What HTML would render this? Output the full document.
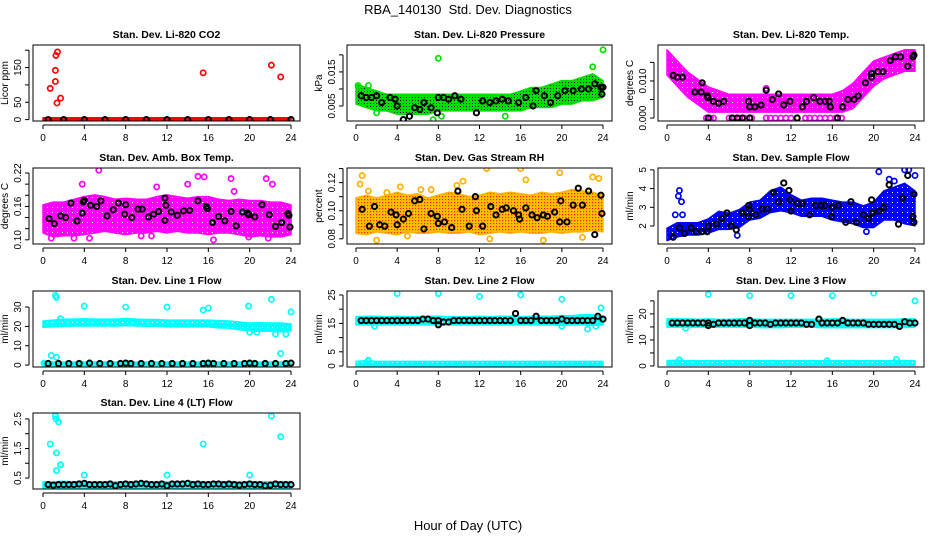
<!DOCTYPE html>
<html><head><meta charset="utf-8"><style>
html,body{margin:0;padding:0;background:#fff}
svg{display:block;font-family:"Liberation Sans",Arial,sans-serif}
</style></head><body>
<svg id="chart" width="936" height="540" viewBox="0 0 936 540" xmlns="http://www.w3.org/2000/svg">
<defs>
<pattern id="pg" width="3" height="3" patternUnits="userSpaceOnUse"><rect width="3" height="3" fill="#00e000"/><rect x="1" y="1" width="1" height="1" fill="#000"/></pattern>
<pattern id="po" width="3" height="3" patternUnits="userSpaceOnUse"><rect width="3" height="3" fill="#ffc000"/><rect x="1" y="1" width="1.2" height="1.2" fill="#ff2000"/></pattern>
<pattern id="pm" width="5" height="5" patternUnits="userSpaceOnUse"><rect width="5" height="5" fill="#ff00ff"/><rect x="2" y="2" width="1" height="1" fill="#fff"/></pattern>
<pattern id="pb" width="5" height="5" patternUnits="userSpaceOnUse"><rect width="5" height="5" fill="#0000ff"/><rect x="2" y="2" width="1" height="1" fill="#fff"/></pattern>
<pattern id="pc" width="5" height="5" patternUnits="userSpaceOnUse"><rect width="5" height="5" fill="#00ffff"/><rect x="2" y="2" width="1" height="1" fill="#fff"/></pattern>
</defs>
<text x="468" y="14" text-anchor="middle" font-size="13" style="white-space:pre">RBA_140130  Std. Dev. Diagnostics</text>
<text x="468" y="530" text-anchor="middle" font-size="13">Hour of Day (UTC)</text>
</svg>
<script>
const HRS=[0,1,2,3,4,5,6,7,8,9,10,11,12,13,14,15,16,17,18,19,20,21,22,23,24];
const xTicks=[0,4,8,12,16,20,24];
// CO2
const co2Lo=[-1,-1,-1,-1,-1,-1,-1,-1,-1,-1,-1,-1,-1,-1,-1,-1,-1,-1,-1,-1,-1,-1,-1,-1,-1];
const co2Hi=[1,1,1,1,1,1,1,1,1,1,1,1,1,1,1,1,1,1,1,1,1,1,1,1,1];
const co2OutX=[0.7,1.2,1.2,1.25,1.4,1.35,1.7,15.5,22.1,23];
const co2OutY=[90,110,142,185,195,48,62,135,157,123];
const co2BlkX=[0.5,2,4,6,8,10,12,14,16,18,20,22,24];
const co2BlkY=[0,0,0,0,0,0,0,0,0,0,0,0,0];
// Pressure
const prLo=[.006,.005,.004,.004,.003,.003,.003,.003,.004,.004,.004,.004,.004,.004,.004,.004,.004,.005,.005,.005,.006,.006,.007,.007,.008];
const prHi=[.011,.010,.009,.008,.008,.008,.008,.008,.008,.008,.008,.008,.008,.008,.008,.008,.009,.010,.010,.011,.012,.012,.013,.014,.012];
const prOutX=[8,24,23,0.2,1.2,2,4.6,7.5,8.3,14.5];
const prOutY=[.019,.0215,.0165,.011,.011,.003,.001,.001,.002,.002];
const prBlkX=[0.5,1,1.5,2,2.5,3.3,3.8,4,4.6,5.2,5.7,6.2,6.6,7.3,7.9,8,8.5,9,9.6,10.2,11.7,12.3,13,13.6,14.2,14.8,15.8,16.5,17.2,17.5,18.3,18.9,19.6,20.3,21.1,21.9,22.6,23.2,23.8,23.9,24];
const prBlkY=[.008,.0075,.0075,.008,.006,.0075,.007,.005,.001,.002,.0045,.004,.006,.0045,.003,.0075,.0075,.007,.008,.007,.003,.0065,.006,.0065,.007,.0065,.006,.0075,.005,.0095,.008,.006,.008,.0095,.0095,.010,.010,.0115,.0105,.0085,.0105];
// Li-820 Temp
const tpLo=[.012,.009,.006,.004,.002,.002,.002,.002,.002,.002,.002,.002,.002,.002,.002,.002,.002,.002,.003,.006,.009,.011,.012,.013,.013];
const tpHi=[.018,.015,.012,.010,.008,.007,.006,.006,.006,.006,.006,.006,.006,.006,.006,.006,.006,.007,.009,.012,.015,.016,.017,.018,.018];
const tpOutX=[3.8,4.2,4.5,6,6.5,7,7.5,8.2,9.6,10,10.5,11,11.5,12,13.4,13.8,14.3,14.8,15.3,15.8,16.3,16.9,9.6,17.5];
const tpOutY=[0,0,0,0,0,0,0,0,0,0,0,0,0,0,0,0,0,0,0,0,0,0,.008,.0075];
const tpBlkX=[0.6,1,1.5,2.7,3.3,3.4,3.9,3.95,4,4.5,5,5.5,6.3,6.8,7.3,7.9,8,8,8.5,9.1,9.6,10.2,10.8,11.3,11.9,12.6,13.1,13.5,14.2,14.8,15.3,15.7,15.8,16.5,17,17.5,18.1,18.5,19.2,19.8,19.8,20.4,20.9,21.6,22.1,22.6,23.3,23.8,23.9];
const tpBlkY=[.0115,.011,.011,.007,.007,.0095,.006,.0055,0,.0045,.004,.0045,0,0,0,.0045,.003,0,.003,.0035,.0075,.005,.0065,.0035,.0045,0,.003,.0045,.0055,.0045,.0045,.0045,.003,0,.003,.005,.005,.006,.0095,.011,.012,.0125,.0125,.0155,.0165,.0165,.014,.0165,.017];
// Amb box temp
const abLo=[.115,.108,.110,.110,.112,.115,.118,.115,.112,.115,.115,.118,.115,.118,.115,.115,.112,.115,.115,.112,.108,.110,.108,.108,.112];
const abHi=[.160,.165,.165,.170,.175,.178,.175,.170,.172,.170,.170,.175,.178,.175,.172,.175,.175,.170,.168,.170,.168,.168,.165,.165,.160];
const abOutX=[5.4,3.8,15,15.6,21.6,18.5,14,11,18.2,22.2,16.5,4.5,19.9,21.8,0.8,10.5,3,9.5,5.2];
const abOutY=[.225,.200,.214,.213,.210,.187,.200,.195,.210,.200,.100,.103,.105,.103,.103,.107,.103,.107,.118];
const abBlkX=[0.6,1.1,1.7,2.2,2.7,3.3,3.8,3.9,4,4.6,5.2,5.6,6.2,6.8,7.3,7.9,8,8.6,9.2,9.6,10.2,10.7,11.2,11.8,11.8,11.9,12.4,13,13.6,14.2,15,15.8,15.9,16.4,17,17.6,18.2,18.7,19.3,19.8,19.9,20.5,21.2,21.9,22.5,23.1,23.7,23.8,23.9];
const abBlkY=[.138,.129,.143,.140,.166,.134,.148,.168,.171,.162,.160,.170,.143,.154,.166,.146,.163,.140,.155,.155,.141,.146,.151,.175,.135,.162,.150,.144,.152,.153,.170,.160,.156,.131,.142,.134,.151,.125,.150,.148,.145,.141,.163,.145,.124,.131,.147,.144,.123];
// RH
const rhLo=[.085,.084,.086,.085,.084,.086,.085,.085,.086,.085,.085,.086,.084,.085,.086,.085,.086,.085,.085,.086,.085,.086,.086,.087,.086];
const rhHi=[.108,.110,.108,.110,.112,.110,.111,.108,.110,.112,.111,.109,.110,.112,.111,.112,.111,.110,.112,.111,.112,.114,.113,.112,.110];
const rhOutX=[0.6,0.4,1.2,3,4.3,6.3,7.3,9.8,10.4,12.7,16,16.5,19.8,23,23.6,2,5,13,18.2,22];
const rhOutY=[.125,.119,.114,.113,.117,.115,.115,.118,.121,.130,.130,.122,.127,.124,.123,.079,.082,.080,.079,.081];
const rhBlkX=[0.6,1.3,1.8,2.3,2.8,3.4,3.9,4.0,4.6,5.1,5.7,6.2,6.6,7.3,7.9,8.0,8.6,9.3,9.9,10.3,11,11.6,11.7,12.3,13.1,13.6,14.2,14.6,15.3,15.8,15.9,16.5,17.1,17.6,18.2,18.6,19.3,19.8,19.9,20.5,21.1,21.6,22,22.6,23.2,23.8,23.9];
const rhBlkY=[.101,.089,.103,.090,.089,.099,.097,.090,.094,.098,.107,.108,.087,.098,.096,.091,.092,.088,.114,.101,.089,.110,.100,.089,.103,.097,.101,.102,.100,.097,.094,.102,.097,.095,.097,.096,.099,.092,.107,.092,.104,.116,.104,.114,.083,.111,.098];
// Sample flow
const sfLo=[1.3,1.5,1.6,1.6,1.7,1.9,1.9,2.0,2.4,2.5,2.8,2.9,2.8,2.6,2.6,2.6,2.4,2.3,2.2,2.0,2.0,2.4,2.4,2.2,2.1];
const sfHi=[1.8,2.1,2.1,2.1,2.3,2.7,2.6,2.8,3.2,3.3,3.8,4.0,3.6,3.3,3.4,3.4,3.3,3.2,3.2,3.0,3.2,3.8,4.0,4.2,3.8];
const sfOutX=[1.2,1.1,1.4,0.8,1.5,20.5,23,23.4,24,19.3,6.8,21.5,22];
const sfOutY=[3.9,3.6,3.3,2.6,2.6,4.9,5,5,4.7,1.7,1.5,4.5,4.4];
const sfBlkX=[0.6,1.2,1.7,2.3,2.8,3.4,3.9,4,4.8,5.3,5.8,6.2,6.7,7.3,7.9,7.9,8,8.6,9.2,9.7,10.3,10.8,11.3,11.8,11.9,12,12.6,13.1,13.8,14.4,14.9,15.3,15.9,16,16.6,17.3,17.8,18.3,19,19.5,19.8,19.9,20.5,21,21.5,22.4,22.8,23.3,23.8,23.9,23.9];
const sfBlkY=[1.4,1.9,1.6,1.9,1.7,1.7,1.7,2,2.1,2.4,2.7,2,1.8,2.7,3.1,2.5,2.9,2.6,2.9,2.9,3.8,3.3,4.3,3.9,3.4,2.8,3.2,3.2,2.6,3.1,3.1,3.1,2.5,3,3.1,2.2,3.3,2.2,2.6,2.4,3.4,2.7,2.8,3,4.2,2.1,3.5,4.7,2.5,3.7,2.2];
// Line1
const l1Lo=[20.3,20.5,20.8,21,21,21,21,21,21.2,21,20.8,20.8,20.5,20.5,20.5,20.5,20.5,20,19.8,19,18.5,18.3,18.3,18,18.5];
const l1Hi=[22,22.5,23,23,23.2,23,23,23,23.3,23,22.8,22.8,22.5,22.5,22.5,22.5,22.5,22.2,22,21.5,21,21.2,21,21,20.5];
const l1OutX=[1.2,1.3,0.8,1.3,1.7,4,8,12,15.5,16,19.9,22.1,22.5,23,23.5,24,20,20.7,0.1];
const l1OutY=[36,35,5,4,24,30.5,30,30,28.5,29.5,30.5,34,16,6,16,27.5,17,17,1];
const l1BlkX=[0.5,1.5,2.5,3.5,4.5,5.5,6.5,7.5,8,8.5,9.5,10.5,11.5,12.5,13.5,14.5,15.5,16,16.5,17.5,18.5,19.5,20,20.5,21.5,22.5,23.5,24];
const l1BlkY=[0.8,0.8,0.8,0.8,1,0.8,0.8,0.8,1,0.8,0.8,0.8,0.8,0.8,0.8,0.8,0.8,1,0.8,0.8,0.8,0.8,1,0.8,0.8,0.8,0.8,1];
const l1ZLo=[0.5,0.5,0.5,0.5,0.5,0.5,0.5,0.5,0.5,0.5,0.5,0.5,0.5,0.5,0.5,0.5,0.5,0.5,0.5,0.5,0.5,0.5,0.5,0.5,0.5];
const l1ZHi=[0.8,0.8,0.8,0.8,0.8,0.8,0.8,0.8,0.8,0.8,0.8,0.8,0.8,0.8,0.8,0.8,0.8,0.8,0.8,0.8,0.8,0.8,0.8,0.8,0.8];
// Line2
const l2Lo=[15,15,15,15,15,15,15,15,15,15,15,15,15,15,15,15,15,15,15,15,14.8,15,15,14.8,15];
const l2Hi=[16.8,17,17,16.8,17,16.8,16.8,17,17,16.8,16.8,16.8,17,16.8,17,17,16.8,17,17,17,17.2,17.2,17.5,17.5,17];
const l2ZLo=[0.5,0.5,0.5,0.5,0.5,0.5,0.5,0.5,0.5,0.5,0.5,0.5,0.5,0.5,0.5,0.5,0.5,0.5,0.5,0.5,0.5,0.5,0.5,0.5,0.5];
const l2ZHi=[1.1,1.3,1.1,1.1,1.1,1.1,1.1,1.1,1.1,1.1,1.1,1.1,1.1,1.1,1.1,1.1,1.1,1.1,1.1,1.1,1.1,1.1,1.1,1.1,1.1];
const l2OutX=[4,8,12,16,20,23.8,1.8,20,22.5,23.3,1.2];
const l2OutY=[25.5,25.5,24.5,25,23.5,20.5,14,14,13,14,2];
const l2BlkX=[0.5,1,1.5,2,2.5,3,3.5,4,4.5,5,5.5,6,6.5,7,7.5,8,8,8.5,9,9.5,10,10.5,11,11.5,12,12.5,13,13.5,14,14.5,15,15.5,16,16.5,17,17.5,18,18.5,19,19.5,20,20.5,21,21.5,22,22.5,23,23.5,24];
const l2BlkY=[16,16,16,16,16,16,16,16,16,16,16,16,16.5,16.5,16,16,14.5,15.5,15.5,16,16,16,16,16,16,16,16,16,16,16,16,18.5,16,16,16,17.5,16,16,16,16,16.5,16,16,16,16,16,16,17.5,16.5];
// Line3
const l3Lo=[15.5,15.5,15.5,15.5,15.5,15.5,15.5,15.5,15.5,15.3,15.3,15.3,15.5,15.5,15.5,15.3,15.3,15.3,15.3,15.3,15.3,15.3,15.3,15.3,15.5];
const l3Hi=[17.5,17.5,17.5,17.3,17.5,17.3,17.3,17.5,17.5,17.3,17.3,17.3,17.3,17.3,17.3,17.3,17.5,17.5,17.3,17.3,17.3,17.3,17.3,17.5,17.5];
const l3ZLo=[0.8,0.8,0.8,0.8,0.8,0.8,0.8,0.8,0.8,0.8,0.8,0.8,0.8,0.8,0.8,0.8,0.8,0.8,0.8,0.8,0.8,0.8,0.8,0.8,0.8];
const l3ZHi=[1.4,1.6,1.4,1.4,1.4,1.4,1.4,1.4,1.4,1.4,1.4,1.4,1.4,1.4,1.4,1.4,1.4,1.4,1.4,1.4,1.4,1.4,1.4,1.4,1.4];
const l3OutX=[4,8,12,16,20,24,1.8,1.2,15.5,22.2];
const l3OutY=[27.5,27,27,27,28,25,14.5,2.3,2,2.5];
const l3BlkX=[0.5,1,1.5,2,2.5,3,3.5,4,4,4.5,5,5.5,6,6.5,7,7.5,8,8,8.5,9,9.5,10,10.5,11,11.5,12,12.5,13,13.5,14,14.7,15,15.5,16,16.5,17,17.5,18,18.5,19,19.5,20,20.5,21,21.5,22,22.5,23,23.5,24];
const l3BlkY=[16.5,16.5,16.5,16.5,16.5,16.5,16.5,16.5,15.5,16,16.5,16.5,16.5,16.5,16.5,16.5,17.5,15.5,16.5,16.5,16.5,16,16.5,16.5,16.5,16.5,16.5,16.5,16,16,18,16.5,16.5,16.5,16.5,17.5,16.5,16.5,16.5,16.5,16,16,16,16,16,16,15.2,17,16.5,16.5];
// Line4
const l4Lo=[.22,.22,.22,.22,.22,.22,.22,.22,.22,.22,.22,.22,.22,.22,.22,.22,.22,.22,.22,.22,.22,.22,.22,.22,.22];
const l4Hi=[.32,.32,.34,.32,.32,.32,.32,.32,.32,.32,.32,.32,.32,.32,.34,.32,.32,.32,.32,.32,.32,.32,.32,.32,.32];
const l4OutX=[0.7,1.2,1.25,1.3,1.3,1.5,1.7,4,12,15.5,20,22.1,23];
const l4OutY=[1.65,2.6,2.5,1.35,0.75,2.4,0.95,0.6,0.6,1.65,0.6,2.6,1.9];
const l4BlkX=[0.5,1,1.5,2,2.5,3,3.5,4,4.5,5,5.5,6,6.5,7,7.5,8,8.5,9,9.5,10,10.5,11,11.5,12,12.5,13,13.5,14,14.5,15,15.5,16,16.5,17,17.5,18,18.5,19,19.5,20,20.5,21,21.5,22,22.5,23,23.5,24];
const l4BlkY=[.28,.26,.28,.28,.28,.28,.3,.32,.28,.28,.28,.28,.3,.24,.28,.3,.28,.3,.32,.3,.28,.28,.3,.24,.3,.3,.3,.32,.28,.3,.28,.28,.3,.3,.28,.3,.28,.26,.28,.3,.28,.28,.24,.26,.3,.28,.28,.28];

const NS='http://www.w3.org/2000/svg';
const svg=document.getElementById('chart');
function mk(tag,attrs,parent){const e=document.createElementNS(NS,tag);for(const k in attrs)e.setAttribute(k,attrs[k]);(parent||svg).appendChild(e);return e;}
const COLS=[{l:33,r:300,x0:43,x24:291},{l:347,r:612,x0:356,x24:603},{l:658,r:924,x0:667,x24:915}];
const ROWS=[45,168,291,413];const PH=76;

function panel(key,col,row,title,ylab,ymin,ymax,ticks,labels,color,fill,bands,outX,outY,blkX,blkY){
  const C=COLS[col],top=ROWS[row],bot=top+PH;
  const xs=h=>C.x0+(C.x24-C.x0)*h/24;
  const ys=v=>bot-(v-ymin)/(ymax-ymin)*PH;
  const g=mk('g',{});
  
  
  const t=mk('text',{x:(C.l+C.r)/2,y:top-7,'text-anchor':'middle','font-size':'10.5','font-weight':'bold'},g);
  t.textContent=title;
  
  
  const clip=mk('clipPath',{id:'c'+key},g);mk('rect',{x:C.l,y:top,width:C.r-C.l,height:PH},clip);
  const pg=mk('g',{'clip-path':'url(#c'+key+')'},g);
  bands.forEach((b,bi)=>{
    let d='';
    HRS.forEach((h,i)=>{d+=(i?'L':'M')+(xs(h)).toFixed(1)+','+(ys(b[1][i])-1.5).toFixed(1);});
    for(let i=HRS.length-1;i>=0;i--)d+='L'+xs(HRS[i]).toFixed(1)+','+(ys(b[0][i])+1.5).toFixed(1);
    const p=mk('path',{d:d+'Z',fill:fill,stroke:color,'stroke-width':'1.5','stroke-linejoin':'round'},pg);
    
    
  });
  outX.forEach((x,i)=>{
    const c=mk('circle',{cx:xs(x),cy:ys(outY[i]),r:2.6,fill:'none',stroke:color,'stroke-width':'1.7'},pg);
    
    
  });
  blkX.forEach((x,i)=>{
    const c=mk('circle',{cx:xs(x),cy:ys(blkY[i]),r:2.6,fill:'none',stroke:'#000','stroke-width':'2'},pg);
    
    
  });
  const box=mk('rect',{x:C.l,y:top,width:C.r-C.l,height:PH,fill:'none',stroke:'#000','stroke-width':'1'},g);
  
  
  mk('line',{x1:C.x0,x2:C.x24,y1:bot+4,y2:bot+4,stroke:'#000'},g);
  xTicks.forEach(h=>{
    mk('line',{x1:xs(h),x2:xs(h),y1:bot+4,y2:bot+8,stroke:'#000'},g);
    const tl=mk('text',{x:xs(h),y:bot+20,'text-anchor':'middle','font-size':'10'},g);
    tl.textContent=h;
    
    
  });
  const ax=C.l-4;
  mk('line',{x1:ax,x2:ax,y1:ys(ticks[0]),y2:ys(ticks[ticks.length-1]),stroke:'#000'},g);
  ticks.forEach(v=>{mk('line',{x1:ax-4,x2:ax,y1:ys(v),y2:ys(v),stroke:'#000'},g);});
  labels.forEach(v=>{
    const yy=ys(v),xx=ax-8;
    const tl=mk('text',{x:xx,y:yy,'text-anchor':'middle','font-size':'10',transform:'rotate(-90 '+xx+' '+yy+')'},g);
    tl.textContent=v;
    
    
  });
  const yl=C.l-25,ym=(top+bot)/2;
  const yt=mk('text',{x:yl,y:ym,'text-anchor':'middle','font-size':'10',transform:'rotate(-90 '+yl+' '+ym+')'},g);
  yt.textContent=ylab;
  
  
}
panel('co2',0,0,'Stan. Dev. Li-820 CO2','Licor ppm',-4,215,[0,50,100,150,200],['0','50','150'],'#ff0000','#ff0000',[[co2Lo,co2Hi]],co2OutX,co2OutY,co2BlkX,co2BlkY);
panel('pressure',1,0,'Stan. Dev. Li-820 Pressure','kPa',0.0006,0.0229,[0.005,0.01,0.015,0.02],['0.005','0.015'],'#00e000','url(#pg)',[[prLo,prHi]],prOutX,prOutY,prBlkX,prBlkY);
panel('li820temp',2,0,'Stan. Dev. Li-820 Temp.','degrees C',-0.0008,0.0197,[0,0.005,0.01,0.015],['0.000','0.010'],'#ff00ff','url(#pm)',[[tpLo,tpHi]],tpOutX,tpOutY,tpBlkX,tpBlkY);
panel('ambtemp',0,1,'Stan. Dev. Amb. Box Temp.','degrees C',0.0925,0.229,[0.10,0.12,0.14,0.16,0.18,0.20,0.22],['0.10','0.16','0.22'],'#ff00ff','url(#pm)',[[abLo,abHi]],abOutX,abOutY,abBlkX,abBlkY);
panel('rh',1,1,'Stan. Dev. Gas Stream RH','percent',0.0763,0.1304,[0.08,0.09,0.10,0.11,0.12,0.13],['0.08','0.10','0.12'],'#ffb000','url(#po)',[[rhLo,rhHi]],rhOutX,rhOutY,rhBlkX,rhBlkY);
panel('sampleflow',2,1,'Stan. Dev. Sample Flow','ml/min',1.04,5.1,[2,3,4,5],['2','3','4','5'],'#0000ff','url(#pb)',[[sfLo,sfHi]],sfOutX,sfOutY,sfBlkX,sfBlkY);
panel('line1',0,2,'Stan. Dev. Line 1 Flow','ml/min',-1,38.3,[0,10,20,30],['0','10','20','30'],'#00ffff','url(#pc)',[[l1Lo,l1Hi],[l1ZLo,l1ZHi]],l1OutX,l1OutY,l1BlkX,l1BlkY);
panel('line2',1,2,'Stan. Dev. Line 2 Flow','ml/min',-0.35,26.4,[0,5,10,15,20,25],['0','5','15','25'],'#00ffff','url(#pc)',[[l2Lo,l2Hi],[l2ZLo,l2ZHi]],l2OutX,l2OutY,l2BlkX,l2BlkY);
panel('line3',2,2,'Stan. Dev. Line 3 Flow','ml/min',-0.4,28.8,[0,5,10,15,20,25],['0','10','20'],'#00ffff','url(#pc)',[[l3Lo,l3Hi],[l3ZLo,l3ZHi]],l3OutX,l3OutY,l3BlkX,l3BlkY);
panel('line4',0,3,'Stan. Dev. Line 4 (LT) Flow','ml/min',0.13,2.7,[0.5,1,1.5,2,2.5],['0.5','1.5','2.5'],'#00ffff','url(#pc)',[[l4Lo,l4Hi]],l4OutX,l4OutY,l4BlkX,l4BlkY);
</script>
</body></html>
